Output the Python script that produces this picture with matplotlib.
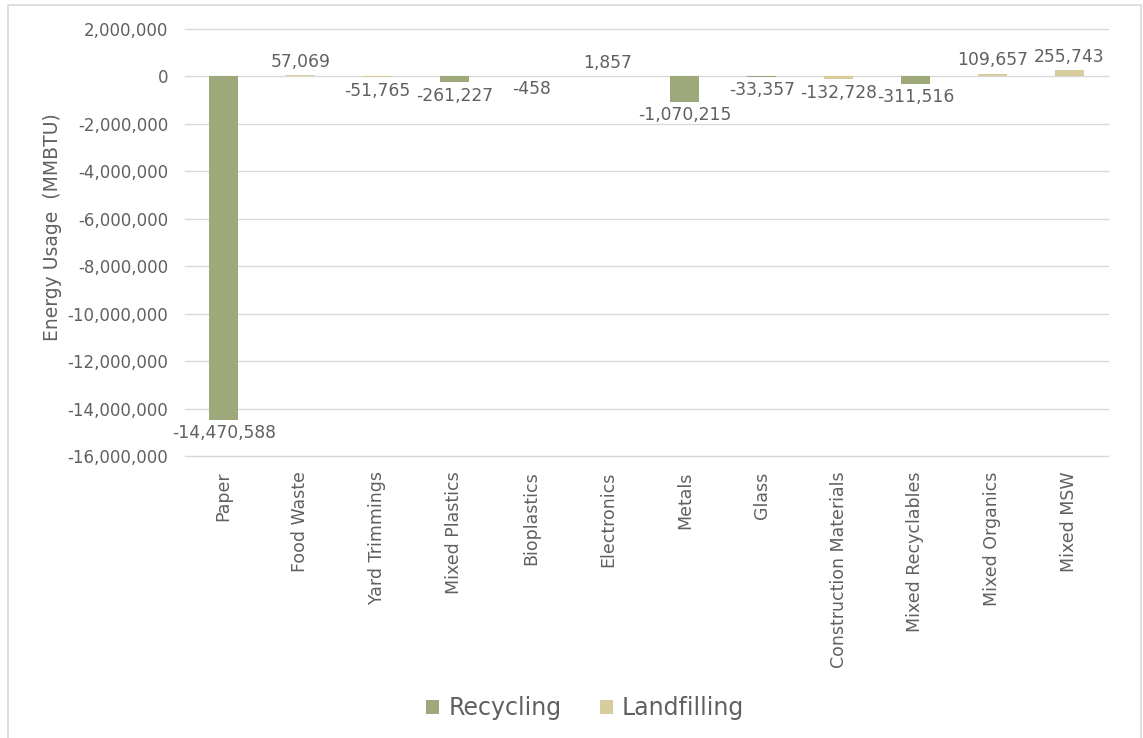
import matplotlib.pyplot as plt
import matplotlib.ticker as mticker
from matplotlib.patches import Rectangle

# energy usage by material, MMBTU (one pathway per material, the other is zero)
materials = ["Paper", "Food Waste", "Yard Trimmings", "Mixed Plastics", "Bioplastics",
             "Electronics", "Metals", "Glass", "Construction Materials",
             "Mixed Recyclables", "Mixed Organics", "Mixed MSW"]
recycling = [-14470588, 0, 0, -261227, 0, 1857, -1070215, -33357, 0, -311516, 0, 0]
landfilling = [0, 57069, -51765, 0, -458, 0, 0, 0, -132728, 0, 109657, 255743]

green = "#9EA97B"
tan = "#D6CC9C"
txt = "#606060"

fig = plt.figure(figsize=(11.43, 7.38), dpi=100)
fig.patches.append(Rectangle((0.007, -0.01), 0.991, 1.003, transform=fig.transFigure,
                             fill=False, edgecolor="#D9D9D9", linewidth=1.2))
ax = fig.add_axes([0.162, 0.382, 0.807, 0.579])

x = range(len(materials))
ax.bar(x, recycling, width=0.38, color=green, label="Recycling", zorder=3)
ax.bar(x, landfilling, width=0.38, color=tan, label="Landfilling", zorder=3)

# value labels at the outer end of each bar
for i in x:
    v = recycling[i] if recycling[i] != 0 else landfilling[i]
    if v < 0:
        ax.annotate(f"{v:,}", (i, v), xytext=(0, -3), textcoords="offset points",
                    ha="center", va="top", fontsize=12.3, color=txt)
    else:
        ax.annotate(f"{v:,}", (i, v), xytext=(0, 3), textcoords="offset points",
                    ha="center", va="bottom", fontsize=12.3, color=txt)

ax.set_xlim(-0.5, len(materials) - 0.5)
ax.set_ylim(-16000000, 2000000)
ax.yaxis.set_major_locator(mticker.MultipleLocator(2000000))
ax.yaxis.set_major_formatter(mticker.FuncFormatter(lambda v, p: f"{int(v):,}"))
ax.grid(axis="y", color="#D9D9D9", linewidth=1, zorder=0)
for line in ax.get_ygridlines():
    line.set_clip_on(False)
for s in ax.spines.values():
    s.set_visible(False)
ax.tick_params(axis="both", length=0, colors=txt)
ax.tick_params(axis="y", labelsize=12, pad=12)
ax.set_xticks(list(x))
ax.set_xticklabels(materials, rotation=90, fontsize=12.5, color=txt)
ax.tick_params(axis="x", pad=11)
ax.set_ylabel("Energy Usage  (MMBTU)", fontsize=13.5, color=txt)
ax.yaxis.set_label_coords(-0.133, 0.535)

fig.legend(loc="center", bbox_to_anchor=(0.512, 0.04), ncol=2, frameon=False,
           fontsize=17, labelcolor=txt, handlelength=0.55, handleheight=0.55,
           handletextpad=0.4, columnspacing=1.6)

fig.savefig("out.png", dpi=100)
